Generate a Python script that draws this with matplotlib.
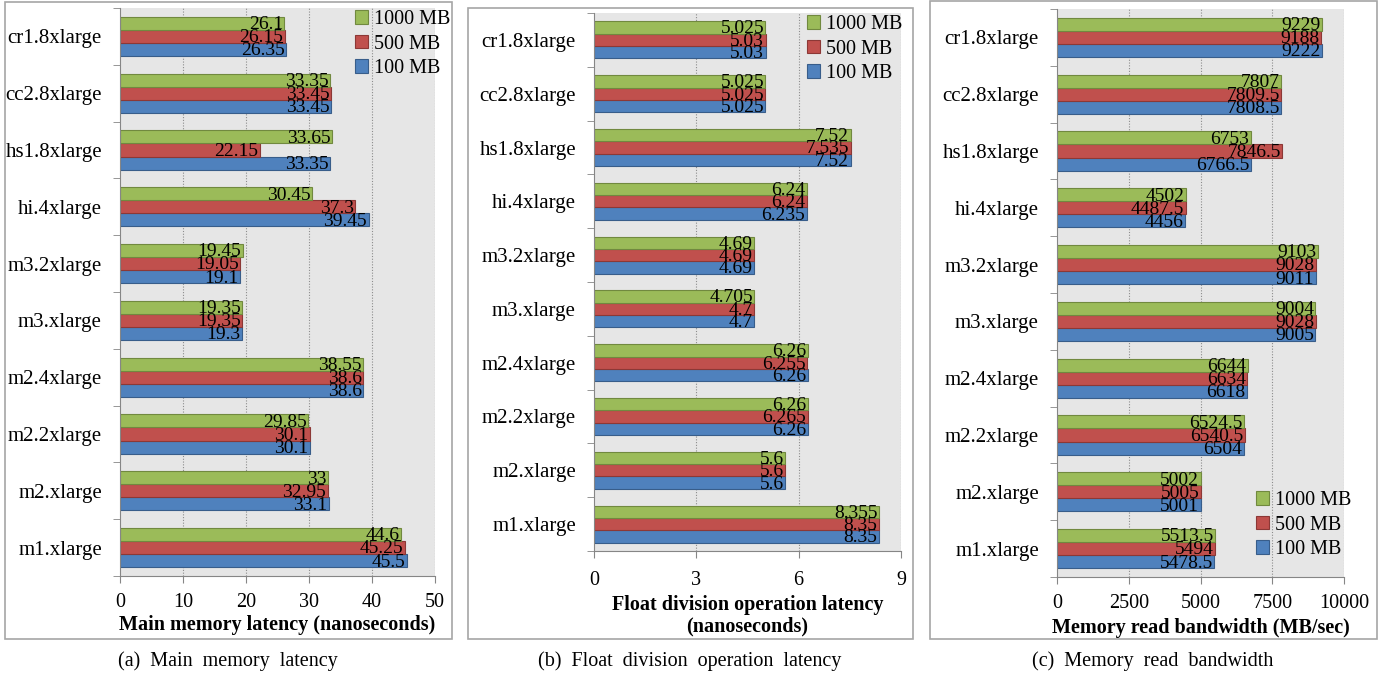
import matplotlib
matplotlib.use("Agg")
import matplotlib.pyplot as plt
from matplotlib.patches import Rectangle
import numpy as np

plt.rcParams['font.family'] = ['Liberation Serif', 'DejaVu Serif']

# categories listed bottom -> top (as drawn)
instances = ["m1.xlarge", "m2.xlarge", "m2.2xlarge", "m2.4xlarge", "m3.xlarge",
             "m3.2xlarge", "hi.4xlarge", "hs1.8xlarge", "cc2.8xlarge", "cr1.8xlarge"]
series = ["100 MB", "500 MB", "1000 MB"]

lat_100 = [45.5, 33.1, 30.1, 38.6, 19.3, 19.1, 39.45, 33.35, 33.45, 26.35]
lat_500 = [45.25, 32.95, 30.1, 38.6, 19.35, 19.05, 37.3, 22.15, 33.45, 26.15]
lat_1000 = [44.6, 33, 29.85, 38.55, 19.35, 19.45, 30.45, 33.65, 33.35, 26.1]

fdiv_100 = [8.35, 5.6, 6.26, 6.26, 4.7, 4.69, 6.235, 7.52, 5.025, 5.03]
fdiv_500 = [8.35, 5.6, 6.265, 6.255, 4.7, 4.69, 6.24, 7.535, 5.025, 5.03]
fdiv_1000 = [8.355, 5.6, 6.26, 6.26, 4.705, 4.69, 6.24, 7.52, 5.025, 5.025]

bw_100 = [5478.5, 5001, 6504, 6618, 9005, 9011, 4456, 6766.5, 7808.5, 9222]
bw_500 = [5494, 5005, 6540.5, 6634, 9028, 9028, 4487.5, 7846.5, 7809.5, 9188]
bw_1000 = [5513.5, 5002, 6524.5, 6644, 9004, 9103, 4502, 6753, 7807, 9229]

colors = ["#4F81BD", "#C0504D", "#9BBB59"]
edges = ["#385D8A", "#8C3836", "#71893F"]

W, H = 1383, 675
fig = plt.figure(figsize=(W / 100, H / 100), dpi=100)


def px_axes(x0, y0, x1, y1):
    return fig.add_axes([x0 / W, 1 - y1 / H, (x1 - x0) / W, (y1 - y0) / H])


def box(x0, y0, x1, y1):
    fig.patches.append(Rectangle((x0 / W, 1 - y1 / H), (x1 - x0) / W, (y1 - y0) / H,
                                 transform=fig.transFigure, fill=False,
                                 edgecolor="#A6A6A6", linewidth=1.2))


def panel(ax, data, ticks, xlabel, tickpad, labelpad, leg_xy):
    y = np.arange(len(instances))
    h = 0.23
    bars = []
    for k, vals in enumerate(data):
        off = (k - 1) * h
        b = ax.barh(y + off, vals, height=h, color=colors[k], edgecolor=edges[k],
                    linewidth=0.8, label=series[k], zorder=3)
        bars.append(b)
        for yy, v in zip(y + off, vals):
            ax.annotate("%g" % v, (v, yy), xytext=(-1, -1), textcoords="offset points",
                        ha="right", va="center", fontsize=14, zorder=4)
    ax.set_facecolor("#E6E6E6")
    ax.set_xlim(ticks[0], ticks[-1])
    ax.set_ylim(-0.5, len(instances) - 0.5)
    ax.set_xticks(ticks)
    ax.set_xticklabels([str(t) for t in ticks], fontsize=14.5)
    ax.set_yticks(y)
    ax.set_yticklabels(instances, fontsize=15)
    ax.set_yticks(np.arange(-0.5, len(instances)), minor=True)
    ax.tick_params(axis="y", which="major", length=0, pad=13)
    ax.tick_params(axis="y", which="minor", length=5, color="#868686")
    ax.tick_params(axis="x", length=5, color="#868686", pad=tickpad)
    for t in ticks[1:]:
        ax.axvline(t, color="#8C8C8C", linestyle=(0, (1, 1.5)), linewidth=0.8, zorder=1)
    for s in ["top", "right"]:
        ax.spines[s].set_visible(False)
    for s in ["left", "bottom"]:
        ax.spines[s].set_color("#868686")
        ax.spines[s].set_zorder(5)
    ax.set_xlabel(xlabel, fontsize=14.5, fontweight="bold", labelpad=labelpad,
                  linespacing=1.1)
    handles = bars[::-1]
    ax.legend(handles, [b.get_label() for b in handles], loc="upper left",
              bbox_to_anchor=(leg_xy[0] / W, 1 - leg_xy[1] / H),
              bbox_transform=fig.transFigure, frameon=False, fontsize=14.5,
              handlelength=0.65, handleheight=0.65, handletextpad=0.3,
              labelspacing=0.28, borderpad=0, borderaxespad=0)


ax_a = px_axes(120, 8, 435, 576)
panel(ax_a, [lat_100, lat_500, lat_1000], [0, 10, 20, 30, 40, 50],
      "Main memory latency (nanoseconds)", 7.5, 2, (355, 10))

ax_b = px_axes(594, 13, 901, 551)
panel(ax_b, [fdiv_100, fdiv_500, fdiv_1000], [0, 3, 6, 9],
      "Float division operation latency\n(nanoseconds)", 9.5, 3.4, (807, 15))

ax_c = px_axes(1057, 9, 1344, 577)
panel(ax_c, [bw_100, bw_500, bw_1000], [0, 2500, 5000, 7500, 10000],
      "Memory read bandwidth (MB/sec)", 7, 4, (1256, 491))

box(5, 2, 452, 639)
box(468, 8, 913, 639)
box(930, 1, 1377, 639)

fig.text(228 / W, 1 - 661 / H, "(a)  Main  memory  latency", ha="center", va="center", fontsize=14.5)
fig.text(690 / W, 1 - 661 / H, "(b)  Float  division  operation  latency", ha="center", va="center", fontsize=14.5)
fig.text(1153 / W, 1 - 661 / H, "(c)  Memory  read  bandwidth", ha="center", va="center", fontsize=14.5)

fig.savefig("out.png", dpi=100)
